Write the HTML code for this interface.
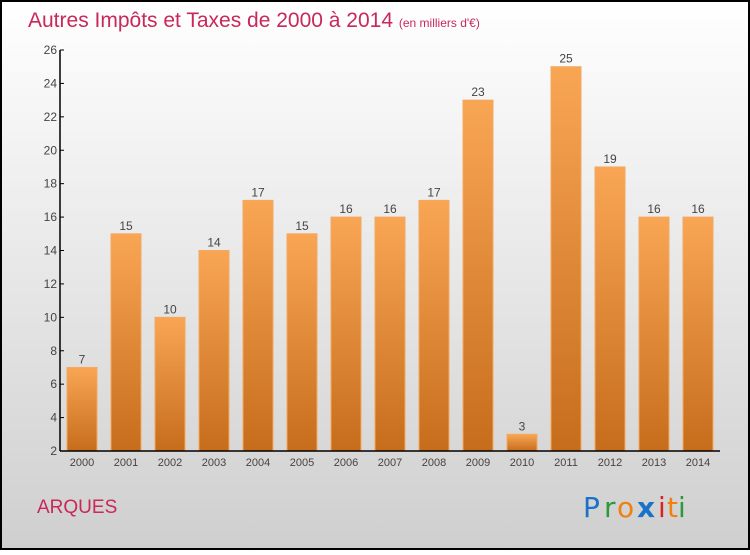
<!DOCTYPE html>
<html><head><meta charset="utf-8"><style>
html,body{margin:0;padding:0;}
body{width:750px;height:550px;overflow:hidden;font-family:"Liberation Sans",sans-serif;}
</style></head><body>
<svg id="chart" width="750" height="550" xmlns="http://www.w3.org/2000/svg">
<defs>
<linearGradient id="bg" x1="0" y1="0" x2="0" y2="1"><stop offset="0" stop-color="#ffffff"/><stop offset="1" stop-color="#cfcfcf"/></linearGradient>
<linearGradient id="bar" x1="0" y1="0" x2="0" y2="1"><stop offset="0" stop-color="#f9a654"/><stop offset="1" stop-color="#c66d1c"/></linearGradient>
</defs>
<rect x="1" y="1" width="748" height="548" fill="url(#bg)" stroke="#000" stroke-width="2"/>
<text x="28" y="27" font-size="21" fill="#c8285a">Autres Impôts et Taxes de 2000 à 2014 <tspan font-size="12">(en milliers d'€)</tspan></text>
<g id="plot"></g>
<text x="37" y="513" font-size="19" fill="#c8285a">ARQUES</text>
<g font-size="28" font-family="'DejaVu Sans',sans-serif">
<text x="583" y="517" fill="#1a73c8">P</text><text x="604" y="517" fill="#2a9a3a">r</text><text x="617" y="517" fill="#f08010">o</text><text x="637" y="517" fill="#1a73c8" font-weight="bold">x</text><text x="658" y="517" fill="#e02020">i</text><text x="667" y="517" fill="#f08010">t</text><text x="678" y="517" fill="#2a9a3a">i</text>
</g>
</svg>
<script>
const categories=["2000","2001","2002","2003","2004","2005","2006","2007","2008","2009","2010","2011","2012","2013","2014"];
const values=[7,15,10,14,17,15,16,16,17,23,3,25,19,16,16];
const yTicks=[2,4,6,8,10,12,14,16,18,20,22,24,26];
const NS="http://www.w3.org/2000/svg";
const g=document.getElementById('plot');
const x0=60,step=44,yMin=2,yMax=26,yTop=50,yBot=451;
const y=v=>yBot-(v-yMin)*(yBot-yTop)/(yMax-yMin);
const xc=i=>x0+step*i+step/2;
function mk(t,a){const e=document.createElementNS(NS,t);for(const k in a)e.setAttribute(k,a[k]);g.appendChild(e);return e;}
values.forEach((v,i)=>{
 const r=mk('rect',{x:xc(i)-15,y:y(v),width:30,height:yBot-y(v),fill:'url(#bar)',stroke:'#f5a860','stroke-width':1});
 
 
 const t=mk('text',{x:xc(i),y:y(v)-4,'text-anchor':'middle','font-size':12,fill:'#444'});
 t.textContent=v;
 
 
 const c=mk('text',{x:xc(i),y:466,'text-anchor':'middle','font-size':11,fill:'#444'});
 c.textContent=categories[i];
 
 
});
yTicks.forEach(v=>{
 const l=mk('line',{x1:x0,x2:x0+4,y1:y(v),y2:y(v),stroke:'#000'});
 
 
 const t=mk('text',{x:x0-3,y:y(v)+4,'text-anchor':'end','font-size':12,fill:'#444'});
 t.textContent=v;
 
 
});
const ya=mk('line',{x1:x0,x2:x0,y1:yTop,y2:yBot,stroke:'#000','stroke-width':1.5});


const xa=mk('line',{x1:x0,x2:x0+step*categories.length,y1:yBot,y2:yBot,stroke:'#000','stroke-width':1.5});


</script>
</body></html>
